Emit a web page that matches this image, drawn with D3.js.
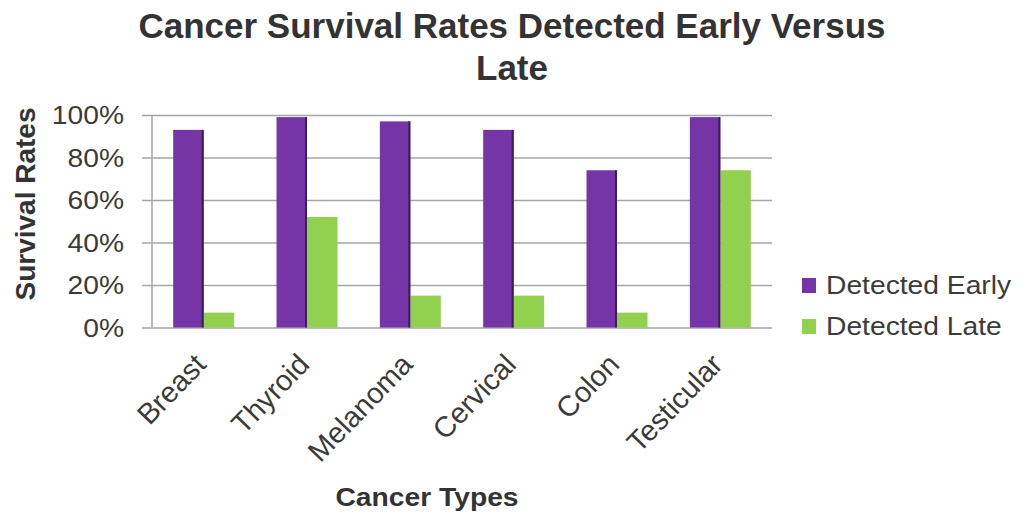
<!DOCTYPE html>
<html>
<head>
<meta charset="utf-8">
<script src="https://cdn.jsdelivr.net/npm/d3@7"></script>
<style>
    body { margin: 0; background: #ffffff; }
    text { font-family: "Liberation Sans", Arial, sans-serif; fill: #3b3b3b; }
</style>
</head>
<body>
<svg id="canvas"></svg>
<script>
let categories = ["Breast", "Thyroid", "Melanoma", "Cervical", "Colon", "Testicular"]
let seriesNames = ["Detected Early", "Detected Late"]
let earlyValues = [93, 99, 97, 93, 74, 99]
let lateValues = [7, 52, 15, 15, 7, 74]
let yTicks = [0, 20, 40, 60, 80, 100]
let colors = ["#7535a6", "#92d050"]

let width = 1024
let height = 514
let sx = 1.13 // text in the picture is a bit wider than plain Arial

let canvas = d3.select("#canvas")
    .attr("width", width)
    .attr("height", height)

let plotLeft = 152, plotRight = 772, plotTop = 115, plotBottom = 327.5

let xScale = d3.scaleBand()
    .domain(categories)
    .range([plotLeft, plotRight])
    .paddingInner(0.41)
    .paddingOuter(0.205)

let xInner = d3.scaleBand()
    .domain(seriesNames)
    .range([0, xScale.bandwidth()])

let yScale = d3.scaleLinear()
    .domain([0, 100])
    .range([plotBottom, plotTop])

// gridlines + tick marks
let yAxis = d3.axisLeft(yScale)
    .tickValues(yTicks)
    .tickSize(-(plotRight - plotLeft))
    .tickFormat("")
let yAxisG = canvas.append("g")
    .attr("transform", "translate(" + plotLeft + ",0)")
    .call(yAxis)
yAxisG.select(".domain").remove()
yAxisG.selectAll("line")
    .attr("x1", -10)
    .attr("stroke", "#a5a5a5")
    .attr("stroke-width", 1.5)

canvas.append("line")
    .attr("x1", plotLeft).attr("x2", plotLeft)
    .attr("y1", yScale(100)).attr("y2", yScale(0))
    .attr("stroke", "#a5a5a5")
    .attr("stroke-width", 1.5)

yAxisG.selectAll(".tick").append("text")
    .attr("transform", "translate(-28,0) scale(" + sx + ",1)")
    .attr("dy", "0.35em")
    .attr("text-anchor", "end")
    .style("font-size", "25px")
    .text((d) => d + "%")

// bars
let rows = categories.map((c, i) => {
    return { category: c, values: [earlyValues[i], lateValues[i]] }
})

let groups = canvas.selectAll("g.cat")
    .data(rows)
    .enter()
    .append("g")
    .attr("class", "cat")
    .attr("transform", (d) => "translate(" + xScale(d.category) + ",0)")

groups.selectAll("rect.bar")
    .data((d) => d.values.map((v, j) => ({ name: seriesNames[j], value: v, index: j })))
    .enter()
    .append("rect")
    .attr("class", "bar")
    .attr("x", (d) => xInner(d.name))
    .attr("y", (d) => yScale(d.value))
    .attr("width", xInner.bandwidth())
    .attr("height", (d) => yScale(0) - yScale(d.value))
    .attr("fill", (d) => colors[d.index])

// dark edge on the right of purple bars
groups.append("rect")
    .attr("x", (d) => xInner(seriesNames[0]) + xInner.bandwidth() - 2)
    .attr("y", (d) => yScale(d.values[0]))
    .attr("width", 2)
    .attr("height", (d) => yScale(0) - yScale(d.values[0]))
    .attr("fill", "#3c1d57")

// category labels
canvas.selectAll("text.cat-label")
    .data(categories)
    .enter()
    .append("text")
    .attr("class", "cat-label")
    .attr("transform", (d) => "translate(" + (xScale(d) + xScale.bandwidth() / 2 + 4) + ",366) rotate(-46)")
    .attr("text-anchor", "end")
    .style("font-size", "29px")
    .text((d) => d)

// title
let titleLines = ["Cancer Survival Rates Detected Early Versus", "Late"]
canvas.selectAll("text.title")
    .data(titleLines)
    .enter()
    .append("text")
    .attr("class", "title")
    .attr("x", 512)
    .attr("y", (d, i) => 38 + i * 42)
    .attr("text-anchor", "middle")
    .style("font-size", "35px")
    .style("font-weight", "bold")
    .style("fill", "#333333")
    .text((d) => d)

// axis titles
canvas.append("text")
    .attr("transform", "translate(35,204) rotate(-90)")
    .attr("text-anchor", "middle")
    .style("font-size", "28px")
    .style("font-weight", "bold")
    .style("fill", "#333333")
    .text("Survival Rates")

canvas.append("text")
    .attr("transform", "translate(427,506) scale(" + sx + ",1)")
    .attr("text-anchor", "middle")
    .style("font-size", "25px")
    .style("font-weight", "bold")
    .style("fill", "#333333")
    .text("Cancer Types")

// legend
let legend = canvas.selectAll("g.legend")
    .data(seriesNames)
    .enter()
    .append("g")
    .attr("class", "legend")
    .attr("transform", (d, i) => "translate(802," + (278 + i * 41) + ")")

legend.append("rect")
    .attr("width", 14)
    .attr("height", 15)
    .attr("fill", (d, i) => colors[i])

legend.append("text")
    .attr("transform", "translate(24,16) scale(" + sx + ",1)")
    .style("font-size", "25px")
    .text((d) => d)
</script>
</body>
</html>
